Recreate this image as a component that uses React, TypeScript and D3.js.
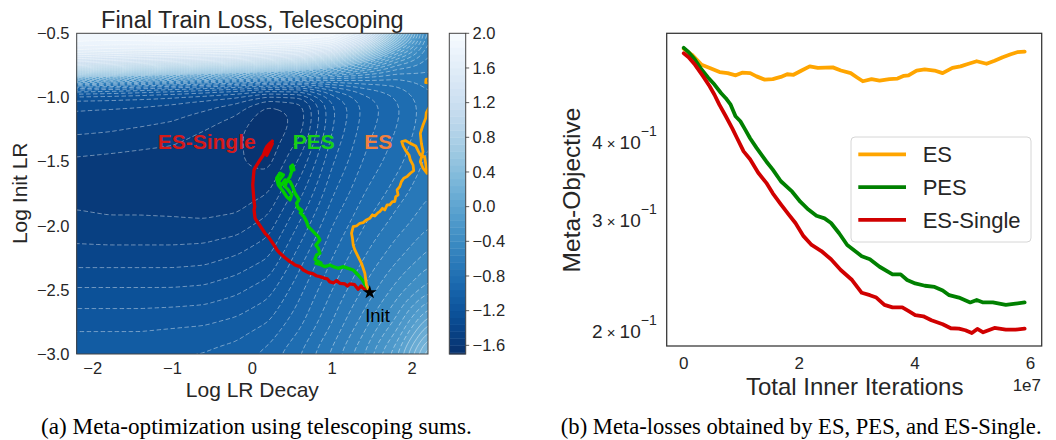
import React, { useMemo } from "react";
import * as d3 from "d3";

// ---------- Left panel: loss surface (estimated grid) ----------
const GRID_X = [-2.2, -1.8, -1.4, -1.0, -0.6, -0.2, 0.2, 0.6, 1.0, 1.4, 1.8, 2.2];
const GRID_Y = [-3.0, -2.75, -2.5, -2.25, -2.0, -1.75, -1.5, -1.25, -1.1, -1.0, -0.9, -0.8, -0.7, -0.6, -0.5];
// one row per GRID_Y value, columns follow GRID_X
const LOSS_ROWS = [
  [-1.05, -1.05, -1.05, -1.04, -1.03, -1.0, -0.93, -0.8, -0.62, -0.4, -0.1, 0.4],
  [-1.15, -1.15, -1.15, -1.14, -1.13, -1.1, -1.04, -0.9, -0.72, -0.52, -0.3, 0.05],
  [-1.27, -1.27, -1.27, -1.27, -1.26, -1.22, -1.15, -0.98, -0.8, -0.63, -0.45, -0.28],
  [-1.4, -1.4, -1.4, -1.4, -1.39, -1.35, -1.28, -1.07, -0.88, -0.72, -0.58, -0.45],
  [-1.49, -1.5, -1.5, -1.5, -1.5, -1.48, -1.4, -1.18, -0.96, -0.8, -0.68, -0.57],
  [-1.55, -1.56, -1.56, -1.57, -1.59, -1.58, -1.52, -1.3, -1.05, -0.88, -0.76, -0.65],
  [-1.54, -1.55, -1.56, -1.57, -1.6, -1.59, -1.63, -1.42, -1.13, -0.95, -0.83, -0.7],
  [-1.42, -1.43, -1.45, -1.47, -1.52, -1.58, -1.68, -1.55, -1.2, -1.0, -0.88, -0.74],
  [-1.36, -1.37, -1.38, -1.4, -1.44, -1.5, -1.65, -1.57, -1.22, -1.02, -0.9, -0.75],
  [-1.3, -1.3, -1.31, -1.33, -1.36, -1.4, -1.5, -1.5, -1.18, -1.0, -0.88, -0.74],
  [-0.8, -0.85, -0.9, -0.95, -1.0, -1.05, -1.1, -1.05, -0.95, -0.85, -0.8, -0.7],
  [0.6, 0.5, 0.4, 0.3, 0.2, 0.1, 0.0, -0.15, -0.35, -0.5, -0.62, -0.64],
  [1.45, 1.4, 1.35, 1.3, 1.25, 1.2, 1.1, 0.95, 0.6, 0.1, -0.35, -0.58],
  [1.8, 1.78, 1.78, 1.8, 1.8, 1.8, 1.75, 1.72, 1.55, 0.9, 0.1, -0.52],
  [1.95, 1.95, 1.97, 1.98, 1.98, 1.98, 1.98, 2.0, 2.0, 1.6, 0.6, -0.45],
];
const LEFT_X_TICKS = [-2, -1, 0, 1, 2];
const LEFT_Y_TICKS = [-0.5, -1.0, -1.5, -2.0, -2.5, -3.0];
const CBAR_TICKS = [2.0, 1.6, 1.2, 0.8, 0.4, 0.0, -0.4, -0.8, -1.2, -1.6];
const INIT_POINT = [1.47, -2.52];

const PATH_ES_SINGLE = [
  [1.45, -2.5], [1.39, -2.488], [1.36, -2.47], [1.325, -2.495], [1.28, -2.46], [1.221, -2.454], [1.19, -2.47],
  [1.159, -2.454], [1.096, -2.449], [1.055, -2.428], [1.02, -2.445], [0.971, -2.438], [0.94, -2.415], [0.909, -2.41],
  [0.846, -2.397], [0.8, -2.39], [0.763, -2.376], [0.7, -2.366], [0.638, -2.345], [0.596, -2.319], [0.534, -2.306],
  [0.5, -2.29], [0.471, -2.28], [0.409, -2.249], [0.346, -2.215], [0.31, -2.19], [0.284, -2.163], [0.242, -2.124],
  [0.2, -2.085], [0.159, -2.059], [0.117, -2.02], [0.075, -1.981], [0.034, -1.942], [0.021, -1.877], [0.03, -1.85],
  [0.021, -1.812], [0.013, -1.747], [0.005, -1.682], [0.013, -1.618], [0.021, -1.565], [0.055, -1.527],
  [0.096, -1.487], [0.138, -1.449], [0.159, -1.41], [0.18, -1.384], [0.221, -1.357], [0.242, -1.345],
  [0.16, -1.42], [0.2, -1.37], [0.25, -1.36], [0.22, -1.4], [0.18, -1.45], [0.21, -1.38], [0.25, -1.34],
];
const PATH_PES = [
  [1.45, -2.49], [1.421, -2.47], [1.379, -2.423], [1.325, -2.384], [1.263, -2.345], [1.2, -2.332], [1.138, -2.319],
  [1.075, -2.332], [1.013, -2.319], [0.971, -2.306], [0.909, -2.319], [0.846, -2.301], [0.796, -2.293],
  [0.86, -2.29], [0.8, -2.27], [0.784, -2.262], [0.804, -2.228], [0.846, -2.215], [0.825, -2.176], [0.796, -2.15],
  [0.846, -2.111], [0.825, -2.085], [0.784, -2.059], [0.742, -2.033], [0.7, -2.007], [0.679, -1.968],
  [0.646, -1.929], [0.6, -1.9], [0.617, -1.89], [0.56, -1.85], [0.62, -1.88], [0.575, -1.864], [0.554, -1.825],
  [0.58, -1.8], [0.575, -1.786], [0.534, -1.747], [0.504, -1.695], [0.471, -1.656], [0.409, -1.643],
  [0.367, -1.682], [0.325, -1.656], [0.388, -1.604], [0.346, -1.591], [0.304, -1.63], [0.325, -1.682],
  [0.388, -1.734], [0.429, -1.773], [0.471, -1.799], [0.492, -1.76], [0.45, -1.721], [0.409, -1.695],
  [0.429, -1.656], [0.471, -1.617], [0.492, -1.578], [0.479, -1.54], [0.504, -1.527], [0.521, -1.565],
];
const PATH_ES = [
  [1.45, -2.49], [1.429, -2.462], [1.409, -2.371], [1.367, -2.293], [1.325, -2.241], [1.284, -2.189], [1.263, -2.15],
  [1.254, -2.098], [1.242, -2.059], [1.263, -2.007], [1.304, -2.002], [1.346, -1.981], [1.388, -1.976],
  [1.429, -1.955], [1.471, -1.942], [1.504, -1.916], [1.534, -1.924], [1.575, -1.898], [1.596, -1.89],
  [1.629, -1.864], [1.659, -1.877], [1.688, -1.838], [1.721, -1.838], [1.754, -1.812], [1.784, -1.812],
  [1.796, -1.773], [1.825, -1.76], [1.813, -1.721], [1.846, -1.695], [1.867, -1.656], [1.896, -1.63],
  [1.938, -1.617], [1.979, -1.591], [2.021, -1.571], [2.013, -1.527], [1.979, -1.488], [1.963, -1.449],
  [1.921, -1.415], [1.888, -1.378], [1.871, -1.345], [1.921, -1.337], [1.979, -1.358], [2.046, -1.378],
  [2.075, -1.415], [2.104, -1.449], [2.158, -1.462], [2.171, -1.514], [2.188, -1.591], [2.138, -1.552],
  [2.104, -1.501], [2.138, -1.423], [2.117, -1.358], [2.104, -1.28], [2.138, -1.215], [2.171, -1.163],
  [2.179, -1.119], [2.263, -1.02], [2.263, -0.89], [2.171, -0.885], [2.175, -0.859], [2.3, -0.84],
];

// ---------- Right panel: meta-objective curves ----------
const ES_X = [0, 0.14, 0.31, 0.45, 0.62, 0.76, 0.9, 1.01, 1.15, 1.26, 1.4, 1.54, 1.68, 1.79, 1.9, 2.04, 2.18, 2.32, 2.58, 2.72, 2.89, 3.0, 3.1, 3.25, 3.39, 3.56, 3.7, 3.81, 3.89, 4.03, 4.17, 4.34, 4.48, 4.65, 4.79, 4.93, 5.07, 5.24, 5.38, 5.52, 5.66, 5.77, 5.9];
const ES_Y = [0.562, 0.55, 0.53, 0.524, 0.516, 0.514, 0.51, 0.515, 0.514, 0.508, 0.502, 0.503, 0.507, 0.512, 0.511, 0.519, 0.527, 0.524, 0.525, 0.519, 0.514, 0.506, 0.499, 0.503, 0.5, 0.503, 0.504, 0.509, 0.51, 0.519, 0.521, 0.519, 0.514, 0.524, 0.527, 0.532, 0.537, 0.532, 0.538, 0.545, 0.551, 0.555, 0.556];
const PES_X = [0, 0.084, 0.196, 0.308, 0.42, 0.532, 0.644, 0.728, 0.812, 0.896, 0.98, 1.064, 1.148, 1.26, 1.429, 1.541, 1.681, 1.877, 2.017, 2.157, 2.297, 2.437, 2.549, 2.689, 2.829, 3.081, 3.221, 3.389, 3.613, 3.754, 3.866, 4.006, 4.174, 4.342, 4.482, 4.594, 4.762, 4.958, 5.07, 5.182, 5.35, 5.574, 5.742, 5.9];
const PES_Y = [0.564, 0.555, 0.54, 0.521, 0.506, 0.493, 0.478, 0.469, 0.458, 0.439, 0.431, 0.418, 0.405, 0.391, 0.372, 0.361, 0.346, 0.333, 0.321, 0.312, 0.305, 0.302, 0.297, 0.286, 0.274, 0.263, 0.26, 0.253, 0.246, 0.246, 0.241, 0.238, 0.236, 0.235, 0.232, 0.228, 0.226, 0.222, 0.224, 0.222, 0.222, 0.22, 0.221, 0.222];
const ESS_X = [0, 0.084, 0.196, 0.336, 0.448, 0.532, 0.616, 0.728, 0.84, 0.924, 1.036, 1.148, 1.289, 1.429, 1.541, 1.681, 1.821, 1.933, 2.073, 2.213, 2.381, 2.549, 2.717, 2.913, 3.081, 3.221, 3.333, 3.473, 3.613, 3.782, 3.894, 4.006, 4.146, 4.286, 4.482, 4.622, 4.762, 4.874, 4.986, 5.081, 5.182, 5.378, 5.574, 5.742, 5.9];
const ESS_Y = [0.553, 0.545, 0.53, 0.508, 0.49, 0.475, 0.458, 0.439, 0.42, 0.405, 0.386, 0.375, 0.357, 0.344, 0.331, 0.318, 0.306, 0.297, 0.283, 0.274, 0.268, 0.26, 0.25, 0.241, 0.23, 0.228, 0.226, 0.22, 0.218, 0.218, 0.215, 0.212, 0.211, 0.208, 0.205, 0.202, 0.2017, 0.2005, 0.1985, 0.2015, 0.199, 0.2022, 0.201, 0.201, 0.2017];
const RIGHT_X_TICKS = [0, 2, 4, 6];
const RIGHT_Y_TICKS = [0.2, 0.3, 0.4];
const SERIES = ["ES", "PES", "ES-Single"];
const COLORS = { ES: "#ffa500", PES: "#008000", "ES-Single": "#d00000" };
const PATH_COLORS = { ES: "#ffa500", PES: "#00cc00", "ES-Single": "#d40000" };
const LABEL_COLORS = { ES: "#f2803f", PES: "#18d018", "ES-Single": "#d41a1a" };

const SANS = "'Liberation Sans', Arial, Helvetica, sans-serif";
const SERIF = "'Liberation Serif', 'Times New Roman', serif";
const TXT = "#262626";
const fmt = (v: number, d: number) => (v < 0 ? "\u2212" : "") + Math.abs(v).toFixed(d);

function findIdx(arr: number[], v: number) {
  let i = 0;
  while (i < arr.length - 2 && v > arr[i + 1]) i++;
  return i;
}
function lookup(x: number, y: number) {
  const cx = Math.max(GRID_X[0], Math.min(GRID_X[GRID_X.length - 1], x));
  const cy = Math.max(GRID_Y[0], Math.min(GRID_Y[GRID_Y.length - 1], y));
  const i = findIdx(GRID_X, cx), j = findIdx(GRID_Y, cy);
  const tx = (cx - GRID_X[i]) / (GRID_X[i + 1] - GRID_X[i]);
  const ty = (cy - GRID_Y[j]) / (GRID_Y[j + 1] - GRID_Y[j]);
  const a = LOSS_ROWS[j][i], b = LOSS_ROWS[j][i + 1], c = LOSS_ROWS[j + 1][i], d = LOSS_ROWS[j + 1][i + 1];
  return (a * (1 - tx) + b * tx) * (1 - ty) + (c * (1 - tx) + d * tx) * ty;
}

export default function App() {
  const L = { x0: 76.7, x1: 428, y0: 33.3, y1: 354 };
  const sx = d3.scaleLinear().domain([-2.2, 2.2]).range([L.x0, L.x1]);
  const sy = d3.scaleLinear().domain([-3, -0.5]).range([L.y1, L.y0]);
  const VMIN = -1.7, VMAX = 2.0;
  const color = (v: number) => d3.interpolateBlues(1 - Math.max(0, Math.min(1, (v - VMIN) / (VMAX - VMIN))));
  const levels = d3.range(0, 47).map((k) => Math.round((-1.68 + 0.08 * k) * 100) / 100);

  const contourData = useMemo(() => {
    const X0 = -2.3, Y0 = -3.1, STEP = 0.02;
    const W = 231, H = 136;
    const values = new Float64Array(W * H);
    for (let j = 0; j < H; j++) for (let i = 0; i < W; i++) values[j * W + i] = lookup(X0 + i * STEP, Y0 + j * STEP);
    (d3 as any).blur2({ data: values, width: W, height: H }, 2);
    const gen = d3.contours().size([W, H]).thresholds(levels);
    const cs = gen(Array.from(values));
    const proj = d3.geoTransform({
      point(x: number, y: number) {
        (this as any).stream.point(sx(X0 + (x - 0.5) * STEP), sy(Y0 + (y - 0.5) * STEP));
      },
    });
    const path = d3.geoPath(proj);
    return cs.map((c) => ({ value: c.value, d: path(c as any) || "" }));
  }, []);

  const pathLine = d3.line<number[]>().x((p) => sx(p[0])).y((p) => sy(p[1]));

  // colorbar
  const C = { x0: 449.3, x1: 465.7 };
  const cy = d3.scaleLinear().domain([VMIN, VMAX]).range([L.y1, L.y0]);
  const bands = [VMIN, ...levels.filter((l) => l > VMIN && l < VMAX), VMAX];

  // right panel
  const R = { x0: 666.7, x1: 1041.7, y0: 33.3, y1: 346 };
  const rx = d3.scaleLinear().domain([-0.295, 6.195]).range([R.x0, R.x1]);
  const ry = d3.scaleLog().domain([0.18928, 0.5948]).range([R.y1, R.y0]);
  const series = {
    ES: ES_X.map((x, i) => [x, ES_Y[i]]),
    PES: PES_X.map((x, i) => [x, PES_Y[i]]),
    "ES-Single": ESS_X.map((x, i) => [x, ESS_Y[i]]),
  } as Record<string, number[][]>;
  const rline = d3.line<number[]>().x((p) => rx(p[0])).y((p) => ry(p[1]));

  const star = d3.symbol(d3.symbolStar, 60)() || "";

  return (
    <svg width={1056} height={440} style={{ position: "absolute", left: 0, top: 0, background: "#fff" }} fontFamily={SANS}>
      <defs>
        <clipPath id="lclip">
          <rect x={L.x0} y={L.y0} width={L.x1 - L.x0} height={L.y1 - L.y0} />
        </clipPath>
      </defs>
      {/* ---- Left panel ---- */}
      <text x={(L.x0 + L.x1) / 2} y={28.3} textAnchor="middle" fontSize={23.5} fill={TXT}>
        Final Train Loss, Telescoping
      </text>
      <g clipPath="url(#lclip)">
        <rect x={L.x0} y={L.y0} width={L.x1 - L.x0} height={L.y1 - L.y0} fill={color(-1.72)} />
        {contourData.map((c, i) => (
          <path key={"f" + i} d={c.d} fill={color(c.value + 0.04)} fillRule="evenodd" stroke={color(c.value + 0.04)} strokeWidth={0.3} />
        ))}
        {contourData.map((c, i) => (
          <path key={"l" + i} d={c.d} fill="none" stroke="#ffffff" strokeOpacity={0.55} strokeWidth={0.8}
            strokeDasharray={c.value < -0.001 ? "4.5,2.5" : undefined} />
        ))}
        {(["ES-Single", "PES", "ES"] as const).map((k) => {
          const pts = k === "ES" ? PATH_ES : k === "PES" ? PATH_PES : PATH_ES_SINGLE;
          return (
            <path key={k} d={pathLine(pts) || ""} fill="none" stroke={PATH_COLORS[k]} strokeWidth={k === "ES" ? 2.8 : 3.3}
              strokeLinejoin="round" strokeLinecap="round" />
          );
        })}
      </g>
      <path d={star} transform={`translate(${sx(INIT_POINT[0])},${sy(INIT_POINT[1])})`} fill="#000" />
      <text x={377.5} y={321.7} textAnchor="middle" fontSize={18.5} fill="#000">Init</text>
      <text x={206.7} y={148.6} textAnchor="middle" fontSize={21} fontWeight="bold" fill={LABEL_COLORS["ES-Single"]}>ES-Single</text>
      <text x={313.8} y={148.6} textAnchor="middle" fontSize={21} fontWeight="bold" fill={LABEL_COLORS.PES}>PES</text>
      <text x={378.3} y={148.6} textAnchor="middle" fontSize={21} fontWeight="bold" fill={LABEL_COLORS.ES}>ES</text>
      <rect x={L.x0} y={L.y0} width={L.x1 - L.x0} height={L.y1 - L.y0} fill="none" stroke="#444" strokeWidth={1} />
      {LEFT_Y_TICKS.map((v) => (
        <text key={v} x={69.5} y={sy(v) + 5.8} textAnchor="end" fontSize={16.5} fill={TXT}>{fmt(v, 1)}</text>
      ))}
      {LEFT_X_TICKS.map((v) => (
        <text key={v} x={sx(v)} y={373.8} textAnchor="middle" fontSize={16.5} fill={TXT}>{fmt(v, 0)}</text>
      ))}
      <text x={(L.x0 + L.x1) / 2} y={396.7} textAnchor="middle" fontSize={21} fill={TXT}>Log LR Decay</text>
      <text transform={`translate(27,193.3) rotate(-90)`} textAnchor="middle" fontSize={21} fill={TXT}>Log Init LR</text>

      {/* colorbar */}
      {bands.slice(0, -1).map((b, i) => (
        <rect key={i} x={C.x0} width={C.x1 - C.x0} y={cy(bands[i + 1])} height={cy(b) - cy(bands[i + 1]) + 0.4}
          fill={color((b + bands[i + 1]) / 2)} />
      ))}
      <rect x={C.x0} y={L.y0} width={C.x1 - C.x0} height={L.y1 - L.y0} fill="none" stroke="#444" strokeWidth={1} />
      {CBAR_TICKS.map((v) => (
        <g key={v}>
          <line x1={C.x1} x2={C.x1 + 3.5} y1={cy(v)} y2={cy(v)} stroke="#333" strokeWidth={0.8} />
          <text x={472.5} y={cy(v) + 5.8} fontSize={16.5} fill={TXT}>{fmt(v, 1)}</text>
        </g>
      ))}
      <text x={256.5} y={434} textAnchor="middle" fontSize={23.2} fontFamily={SERIF} fill="#000">
        (a) Meta-optimization using telescoping sums.
      </text>

      {/* ---- Right panel ---- */}
      {SERIES.map((k) => (
        <path key={k} d={rline(series[k]) || ""} fill="none" stroke={(COLORS as any)[k]} strokeWidth={3.8}
          strokeLinejoin="round" strokeLinecap="round" />
      ))}
      <rect x={R.x0} y={R.y0} width={R.x1 - R.x0} height={R.y1 - R.y0} fill="none" stroke="#333" strokeWidth={1.25} />
      {RIGHT_X_TICKS.map((v) => (
        <text key={v} x={rx(v)} y={368.5} textAnchor="middle" fontSize={17} fill={TXT}>{v}</text>
      ))}
      <text x={1041} y={390.5} textAnchor="end" fontSize={17} fill={TXT}>1e7</text>
      {RIGHT_Y_TICKS.map((v) => (
        <text key={v} x={656.7} y={ry(v) + 6.9} textAnchor="end" fontSize={19} fill={TXT}>
          <tspan>{Math.round(v * 10)}</tspan>
          <tspan fontSize={15}>{" \u00d7 "}</tspan>
          <tspan>10</tspan>
          <tspan dy={-13} fontSize={14}>{"\u22121"}</tspan>
        </text>
      ))}
      <text x={(R.x0 + R.x1) / 2 + 0.5} y={395} textAnchor="middle" fontSize={24} fill={TXT}>Total Inner Iterations</text>
      <text transform={`translate(580,190) rotate(-90)`} textAnchor="middle" fontSize={24.5} fill={TXT}>Meta-Objective</text>
      {/* legend */}
      <rect x={851} y={137} width={180} height={105} rx={4} fill="#fff" fillOpacity={0.85} stroke="#d6d6d6" strokeWidth={1} />
      {SERIES.map((k, i) => (
        <g key={k}>
          <line x1={858.3} x2={906} y1={154.3 + i * 32.8} y2={154.3 + i * 32.8} stroke={(COLORS as any)[k]} strokeWidth={3.8} />
          <text x={922.7} y={162.3 + i * 32.8} fontSize={22} fill={TXT}>{k}</text>
        </g>
      ))}
      <text x={801.2} y={434} textAnchor="middle" fontSize={22.6} fontFamily={SERIF} fill="#000">
        (b) Meta-losses obtained by ES, PES, and ES-Single.
      </text>
    </svg>
  );
}
